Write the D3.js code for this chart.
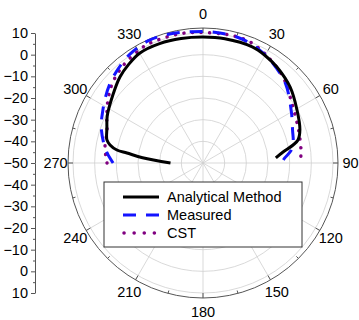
<!DOCTYPE html>
<html>
<head>
<meta charset="utf-8">
<script src="https://cdn.jsdelivr.net/npm/d3@7"></script>
<style>
  body { margin: 0; background: #fff; }
  svg text { font-family: "Liberation Sans", Arial, sans-serif; font-size: 14.5px; fill: #000; }
</style>
</head>
<body>
<div id="chart"></div>
<script>
// angle labels (deg, clockwise from top) and radial ticks (dB)
const angleTicks = [0, 30, 60, 90, 120, 150, 180, 210, 240, 270, 300, 330];
const radialTicks = [10, 0, -10, -20, -30, -40, -50];
const seriesNames = ["Analytical Method", "Measured", "CST"];

// Analytical method
const analyticalAng = [-90, -85, -82.5, -81.4, -79, -76.5, -70, -64, -53, -44, -37, -30, -20, -10, 0, 10, 23, 30, 37.6, 49, 60.6, 71, 76.4, 78.7, 82.2, 86];
const analyticalDb  = [-35, -22, -14.6, -9.8, -6.3, -4.4, -2.8, -0.8, 2.1, 5.2, 7.0, 8.5, 8.6, 8.3, 8.1, 8.2, 8.2, 7.3, 5.9, 3.3, -0.2, -2.7, -4.9, -7.6, -12.7, -16.3];

// Measured
const measuredAng = [-90, -84, -78, -70, -63, -56, -49, -42, -34, -24, -15, -5, 5, 15, 22, 28, 34, 46, 60, 70, 77, 82, 87, 91];
const measuredDb  = [-8.5, -5.5, -3, 0, 2, 4.3, 6.6, 8.5, 10.5, 11.8, 11.5, 10.8, 10.6, 10.2, 9.3, 8, 6.5, 2.9, -2.9, -6, -7.3, -9, -12.5, -14];

// CST
const cstAng = [-90, -81, -72, -64, -56.5, -49, -40, -30, -24, -10, 0, 10, 16, 22, 30, 43, 58, 69, 76, 84, 90];
const cstDb  = [-5.7, -4.2, -3.4, -0.6, 2.6, 5.6, 8, 9.8, 10.5, 10.6, 10.2, 10.3, 10.3, 9.8, 7.8, 4.2, -1.1, -3.1, -3.9, -4.5, -5.2];

const width = 359, height = 320;
const cx = 203, cy = 163;
const frameR = 135;
const rad = Math.PI / 180;

const svg = d3.select("#chart").append("svg")
  .attr("width", width)
  .attr("height", height);

const r = d3.scaleLinear().domain([-50, 10]).range([0, 130]);

const g = svg.append("g").attr("transform", "translate(" + cx + "," + cy + ")");

// grid rings
g.selectAll(".ring")
  .data(radialTicks.filter(d => d > -50))
  .enter().append("circle")
  .attr("r", d => r(d))
  .attr("fill", "none")
  .attr("stroke", "#cfcfcf")
  .attr("stroke-width", 0.8);

// spokes
g.selectAll(".spoke")
  .data(angleTicks)
  .enter().append("line")
  .attr("x1", 0).attr("y1", 0)
  .attr("x2", d => frameR * Math.sin(d * rad))
  .attr("y2", d => -frameR * Math.cos(d * rad))
  .attr("stroke", "#cfcfcf")
  .attr("stroke-width", 0.8);

// outer frame
g.append("circle")
  .attr("r", frameR)
  .attr("fill", "none")
  .attr("stroke", "#555")
  .attr("stroke-width", 1);

// frame ticks, major every 30, minor every 15
const frameTicks = d3.range(0, 360, 15);
g.selectAll(".ftick")
  .data(frameTicks)
  .enter().append("line")
  .attr("x1", d => frameR * Math.sin(d * rad))
  .attr("y1", d => -frameR * Math.cos(d * rad))
  .attr("x2", d => (frameR - (d % 30 === 0 ? 5 : 3)) * Math.sin(d * rad))
  .attr("y2", d => -(frameR - (d % 30 === 0 ? 5 : 3)) * Math.cos(d * rad))
  .attr("stroke", "#555")
  .attr("stroke-width", 1);

// angle labels
g.selectAll(".alabel")
  .data(angleTicks)
  .enter().append("text")
  .attr("x", d => 147.5 * Math.sin(d * rad))
  .attr("y", d => -149 * Math.cos(d * rad))
  .attr("dy", "0.36em")
  .attr("text-anchor", "middle")
  .text(d => d);

// curves
const line = d3.lineRadial()
  .angle(d => d[0] * rad)
  .radius(d => r(d[1]))
  .curve(d3.curveCatmullRom.alpha(0.5));

const series = [
  { pts: d3.zip(analyticalAng, analyticalDb), color: "#000", width: 3, dash: null, cap: "butt" },
  { pts: d3.zip(measuredAng, measuredDb), color: "#1414ff", width: 3, dash: "13 10", cap: "butt" },
  { pts: d3.zip(cstAng, cstDb), color: "#800080", width: 3.5, dash: "0.1 8.5", cap: "round" }
];

// draw CST first so the others sit over it
[2, 1, 0].forEach(i => {
  const s = series[i];
  g.append("path")
    .attr("d", line(s.pts))
    .attr("fill", "none")
    .attr("stroke", s.color)
    .attr("stroke-width", s.width)
    .attr("stroke-linecap", s.cap)
    .attr("stroke-dasharray", s.dash);
});

// left radial axis, mirrored top and bottom
const yTop = d3.scaleLinear().domain([-50, 10]).range([cy, cy - 130]);
const yBot = d3.scaleLinear().domain([-50, 10]).range([cy, cy + 130]);
const axisX = 35;
const minorTicks = d3.range(-45, 10, 10);

[[yTop, radialTicks], [yBot, radialTicks.filter(d => d > -50)]].forEach(([sc, tv]) => {
  const ax = svg.append("g")
    .attr("transform", "translate(" + axisX + ",0)")
    .call(d3.axisLeft(sc).tickValues(tv).tickSize(4).tickSizeOuter(0).tickPadding(3));
  ax.select(".domain").attr("stroke", "#555");
  ax.selectAll(".tick line").attr("stroke", "#555");
  ax.selectAll("text").attr("font-size", null).attr("font-family", null);
  svg.append("g")
    .attr("transform", "translate(" + axisX + ",0)")
    .call(d3.axisLeft(sc).tickValues(minorTicks).tickSize(2).tickFormat(""))
    .call(a => a.select(".domain").remove())
    .selectAll(".tick line").attr("stroke", "#555");
});

// legend
const legend = svg.append("g").attr("transform", "translate(104,182)");
legend.append("rect")
  .attr("width", 198)
  .attr("height", 65)
  .attr("fill", "#fff")
  .attr("stroke", "#333")
  .attr("stroke-width", 1);

const item = legend.selectAll(".item")
  .data(seriesNames)
  .enter().append("g")
  .attr("transform", (d, i) => "translate(0," + (15 + i * 18) + ")");

item.append("line")
  .attr("x1", (d, i) => i === 2 ? 20 : 19)
  .attr("x2", 55)
  .attr("stroke", (d, i) => series[i].color)
  .attr("stroke-width", (d, i) => series[i].width)
  .attr("stroke-linecap", (d, i) => series[i].cap)
  .attr("stroke-dasharray", (d, i) => i === 1 ? "13 10" : i === 2 ? "0.1 10" : null);

item.append("text")
  .attr("x", 63)
  .attr("dy", "0.36em")
  .text(d => d);
</script>
</body>
</html>
